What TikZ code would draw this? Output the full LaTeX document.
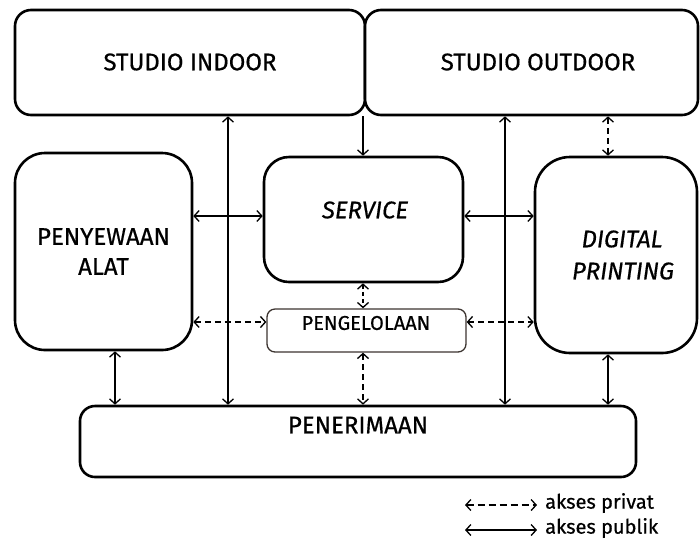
\documentclass[tikz,border=0pt]{standalone}
\usepackage{fontspec}
\setmainfont{Fira Sans}[FakeBold=0.6,ItalicFeatures={FakeBold=0.6}]
\usetikzlibrary{arrows.meta}
\definecolor{pengcol}{RGB}{60,52,48}
\tikzset{
  box/.style={draw=black, line width=2.6pt, fill=white, rounded corners=#1, inner sep=0pt, align=center, font=\fontsize{24}{30}\selectfont},
  pub/.style={line width=1.3pt, {Straight Barb[length=5pt,width=11pt]}-{Straight Barb[length=5pt,width=11pt]}},
  priv/.style={pub, dash pattern=on 6pt off 4pt},
  one/.style={line width=1.3pt, -{Straight Barb[length=5pt,width=11pt]}},
  lbl/.style={inner sep=0pt, font=\fontsize{24}{30}\selectfont},
  leg/.style={inner sep=0pt, anchor=west, font=\fontsize{20}{24}\selectfont}
}
\begin{document}
\begin{tikzpicture}[x=1pt,y=-1pt]
\useasboundingbox (0,0) rectangle (700,542);
% boxes
\node[box=16pt, minimum width=350pt, minimum height=105pt] (indoor) at (190,62.5) {};
\node[lbl] (indoort) at (190,62) {STUDIO INDOOR};
\node[box=16pt, minimum width=333pt, minimum height=105pt] (outdoor) at (531.5,62.5) {};
\node[lbl] (outdoort) at (538,62) {STUDIO OUTDOOR};
\node[box=30pt, minimum width=177pt, minimum height=197pt] (peny) at (103.5,251.5) {PENYEWAAN\\ALAT};
\node[box=25pt, minimum width=199pt, minimum height=125pt] (service) at (363.5,219.5) {};
\node[lbl, font=\fontsize{24}{30}\selectfont\itshape] (servicet) at (365,210) {SERVICE};
\node[box=35pt, minimum width=162pt, minimum height=196pt, font=\fontsize{24}{32}\selectfont\itshape] (dp) at (616,255) {\hspace{12pt}DIGITAL\\\hspace{14pt}PRINTING};
\node[draw=pengcol, line width=1.3pt, fill=white, rounded corners=8pt, minimum width=199pt, minimum height=43pt] (peng) at (366.5,330.5) {};
\node[lbl, font=\fontsize{20}{24}\selectfont] (pengt) at (366,323) {PENGELOLAAN};
\node[box=15pt, minimum width=556pt, minimum height=71pt] (pen) at (358,441.5) {};
\node[lbl] (pent) at (358,425) {PENERIMAAN};
% vertical guides
\coordinate (vP) at (115,0);
\coordinate (vA) at (228,0);
\coordinate (vC) at (363,0);
\coordinate (vB) at (505,0);
\coordinate (vD) at (608,0);
\coordinate (hA) at (0,216);
\coordinate (hB) at (0,322);
% connectors
\draw[pub] (vA |- indoor.south) -- (vA |- pen.north);
\draw[pub] (vB |- outdoor.south) -- (vB |- pen.north);
\draw[one] (vC |- indoor.south) -- (vC |- service.north);
\draw[priv] (vD |- outdoor.south) -- (vD |- dp.north);
\draw[pub] (peny.east |- hA) -- (service.west |- hA);
\draw[pub] (service.east |- hA) -- (dp.west |- hA);
\draw[priv] (peny.east |- hB) -- (peng.west |- hB);
\draw[priv] (peng.east |- hB) -- (dp.west |- hB);
\draw[priv, dash pattern=on 4pt off 3pt] (vC |- service.south) -- (vC |- peng.north);
\draw[priv] (vC |- peng.south) -- (vC |- pen.north);
\draw[pub] (vP |- peny.south) -- (vP |- pen.north);
\draw[pub] (vD |- dp.south) -- (vD |- pen.north);
% legend
\coordinate (l1a) at (465,505);
\coordinate (l1b) at (537,505);
\coordinate (l2a) at (465,530);
\coordinate (l2b) at (537,530);
\draw[priv, dash pattern=on 7pt off 4pt] (l1a) -- (l1b);
\draw[pub] (l2a) -- (l2b);
\node[leg] (legpriv) at (545,503) {akses privat};
\node[leg] (legpub) at (545,528) {akses publik};
\end{tikzpicture}
\end{document}
